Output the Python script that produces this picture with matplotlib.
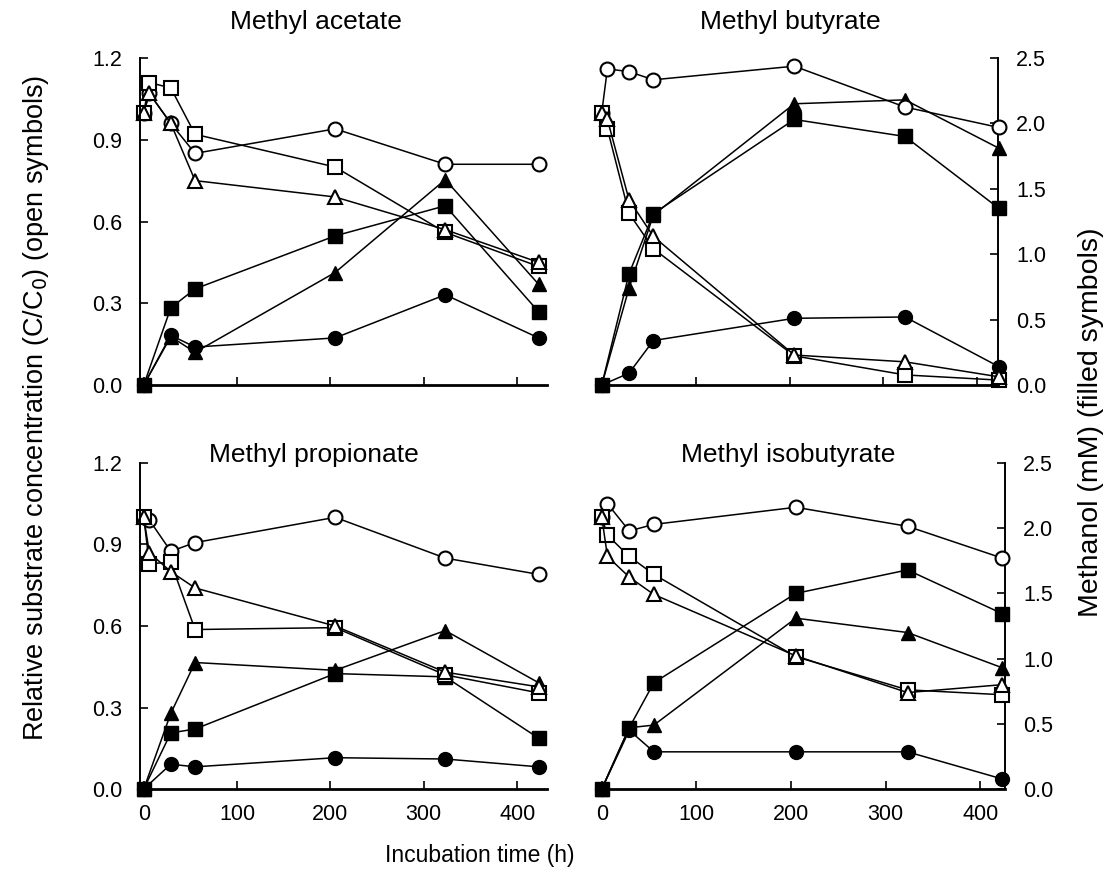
import matplotlib
matplotlib.use("Agg")
import matplotlib.pyplot as plt

plt.rcParams['font.family'] = ['Liberation Sans', 'DejaVu Sans']

# ---- data ----
t_open = [0, 6, 29, 55, 205, 323, 423]
t_filled = [0, 29, 55, 205, 323, 423]

titles = ["Methyl acetate", "Methyl butyrate", "Methyl propionate", "Methyl isobutyrate"]

# open symbols: relative substrate concentration C/C0
open_circle = [
    [1.0, 1.07, 0.96, 0.85, 0.94, 0.81, 0.81],
    [1.0, 1.16, 1.15, 1.12, 1.17, 1.02, 0.945],
    [1.0, 0.99, 0.875, 0.907, 1.0, 0.85, 0.79],
    [1.0, 1.05, 0.95, 0.974, 1.037, 0.967, 0.85],
]
open_square = [
    [1.0, 1.11, 1.09, 0.92, 0.80, 0.56, 0.435],
    [1.0, 0.94, 0.63, 0.50, 0.107, 0.037, 0.018],
    [1.0, 0.83, 0.834, 0.587, 0.594, 0.42, 0.354],
    [1.0, 0.934, 0.856, 0.79, 0.487, 0.365, 0.347],
]
open_triangle = [
    [1.0, 1.07, 0.96, 0.75, 0.69, 0.57, 0.45],
    [1.0, 0.975, 0.68, 0.545, 0.11, 0.085, 0.03],
    [1.0, 0.87, 0.80, 0.74, 0.60, 0.43, 0.376],
    [1.0, 0.856, 0.78, 0.716, 0.49, 0.355, 0.384],
]
# filled symbols: methanol (mM)
filled_square = [
    [0, 0.59, 0.735, 1.14, 1.37, 0.56],
    [0, 0.85, 1.31, 2.03, 1.90, 1.35],
    [0, 0.43, 0.46, 0.885, 0.86, 0.39],
    [0, 0.47, 0.815, 1.50, 1.68, 1.345],
]
filled_triangle = [
    [0, 0.37, 0.25, 0.86, 1.57, 0.77],
    [0, 0.74, 1.30, 2.15, 2.18, 1.81],
    [0, 0.58, 0.97, 0.91, 1.215, 0.815],
    [0, 0.47, 0.49, 1.31, 1.20, 0.93],
]
filled_circle = [
    [0, 0.38, 0.29, 0.36, 0.69, 0.36],
    [0, 0.09, 0.34, 0.51, 0.52, 0.14],
    [0, 0.19, 0.17, 0.24, 0.23, 0.17],
    [0, 0.45, 0.285, 0.285, 0.285, 0.077],
]

xticks = [0, 100, 200, 300, 400]
yticks_left = [0.0, 0.3, 0.6, 0.9, 1.2]
yticks_right = [0.0, 0.5, 1.0, 1.5, 2.0, 2.5]

W, H = 1119, 888
fig = plt.figure(figsize=(W / 100, H / 100), dpi=100)

def frac(l, t, r, b):
    return [l / W, 1 - b / H, (r - l) / W, (b - t) / H]

positions = [
    frac(140, 58, 547, 385),
    frac(598, 58, 998, 385),
    frac(140, 463, 547, 789),
    frac(598, 463, 1005, 789),
]
xlims = [(-4, 432), (-4, 422), (-4, 432), (-4, 426)]

ms = 10
lw = 1.1
tick_fs = 15.5
for i in range(4):
    ax = fig.add_axes(positions[i])
    ax2 = ax.twinx()
    ax.set_xlim(*xlims[i])
    ax.set_ylim(0, 1.2)
    ax2.set_ylim(0, 2.5)
    ax.set_zorder(ax2.get_zorder() + 1)
    ax.patch.set_visible(False)

    for ser, mk in ((open_circle, 'o'), (open_square, 's'), (open_triangle, '^')):
        ax.plot(t_open, ser[i], color='black', lw=lw, marker=mk, ms=ms,
                mfc='white', mec='black', mew=1.5, clip_on=False)
    for ser, mk in ((filled_circle, 'o'), (filled_square, 's'), (filled_triangle, '^')):
        ax2.plot(t_filled, ser[i], color='black', lw=lw, marker=mk, ms=ms,
                 mfc='black', mec='black', clip_on=False)

    for a in (ax, ax2):
        for s in a.spines.values():
            s.set_visible(False)
        a.tick_params(direction='in', length=6, width=1.2, labelsize=tick_fs)
    ax.tick_params(axis='x', pad=11)
    ax.tick_params(axis='y', pad=13)
    ax2.tick_params(axis='y', pad=13)
    ax.spines['bottom'].set_visible(True)
    ax.spines['bottom'].set_linewidth(2.0)
    ax.set_xticks(xticks)
    if i >= 2:
        ax.set_xticklabels([str(v) for v in xticks])
    else:
        ax.set_xticklabels([])

    left = (i % 2 == 0)
    if left:
        ax.spines['left'].set_visible(True)
        ax.spines['left'].set_linewidth(1.4)
        ax.set_yticks(yticks_left)
        ax.set_yticklabels([f"{v:.1f}" for v in yticks_left])
        ax2.set_yticks([])
    else:
        ax.set_yticks([])
        ax.tick_params(left=False, labelleft=False)
        ax2.spines['right'].set_visible(True)
        ax2.spines['right'].set_linewidth(1.4)
        ax2.set_yticks(yticks_right)
        ax2.set_yticklabels([f"{v:.1f}" for v in yticks_right])

fs_title = 19
fig.text(316 / W, 1 - 29 / H, titles[0], ha='center', va='baseline', fontsize=fs_title)
fig.text(790 / W, 1 - 29 / H, titles[1], ha='center', va='baseline', fontsize=fs_title)
fig.text(314 / W, 1 - 462 / H, titles[2], ha='center', va='baseline', fontsize=fs_title)
fig.text(788 / W, 1 - 462 / H, titles[3], ha='center', va='baseline', fontsize=fs_title)

fig.text(36 / W, 1 - 408 / H, "Relative substrate concentration (C/C$_0$) (open symbols)",
         rotation=90, ha='center', va='center', fontsize=19.5)
fig.text(1091 / W, 1 - 422 / H, "Methanol (mM) (filled symbols)",
         rotation=90, ha='center', va='center', fontsize=20.5)
fig.text(480 / W, 1 - 855 / H, "Incubation time (h)", ha='center', va='center', fontsize=16.5)

fig.savefig("out.png", dpi=100)
